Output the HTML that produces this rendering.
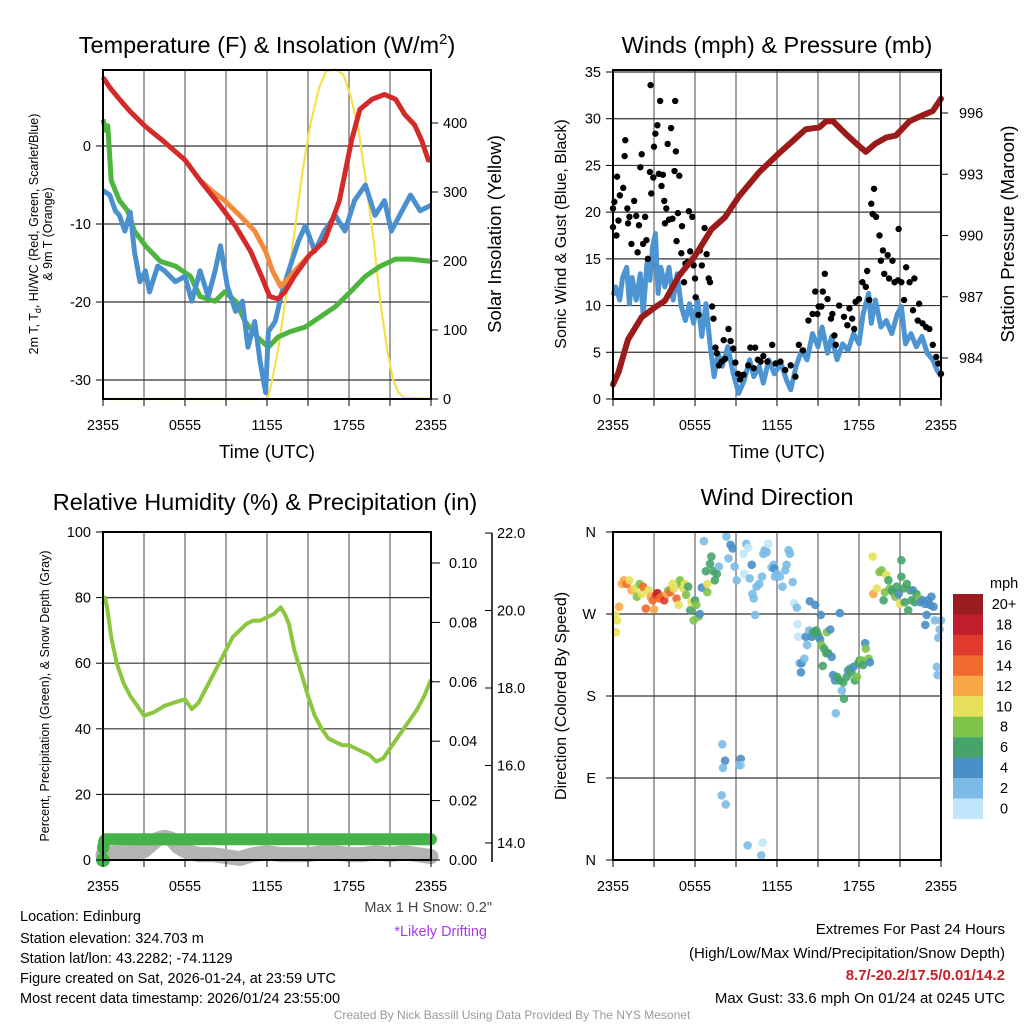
<!DOCTYPE html>
<html><head><meta charset="utf-8"><style>
body{margin:0;background:#fff;}
svg{display:block;font-family:"Liberation Sans",Arial,sans-serif;}
</style></head><body>
<svg id="fig" width="1024" height="1024" viewBox="0 0 1024 1024" xmlns="http://www.w3.org/2000/svg">
<rect width="1024" height="1024" fill="#fff"/>
<g id="g1"></g>
<g id="g2"></g>
<g id="g3"></g>
<g id="g4"></g>
<g font-size="14.5" fill="#000">
<text x="20" y="921">Location: Edinburg</text>
<text x="20" y="943">Station elevation: 324.703 m</text>
<text x="20" y="963">Station lat/lon: 43.2282; -74.1129</text>
<text x="20" y="983">Figure created on Sat, 2026-01-24, at 23:59 UTC</text>
<text x="20" y="1003">Most recent data timestamp: 2026/01/24 23:55:00</text>
</g>
<text x="492" y="912" font-size="14.5" fill="#444" text-anchor="end">Max 1 H Snow: 0.2"</text>
<text x="487" y="936" font-size="14.5" fill="#a63ce6" text-anchor="end">*Likely Drifting</text>
<g font-size="15" text-anchor="end">
<text x="1005" y="934">Extremes For Past 24 Hours</text>
<text x="1005" y="958">(High/Low/Max Wind/Precipitation/Snow Depth)</text>
<text x="1005" y="980" fill="#c8202a" font-weight="bold">8.7/-20.2/17.5/0.01/14.2</text>
<text x="1005" y="1003">Max Gust: 33.6 mph On 01/24 at 0245 UTC</text>
</g>
<text x="512" y="1019" font-size="12" fill="#999" text-anchor="middle">Created By Nick Bassill Using Data Provided By The NYS Mesonet</text>
</svg>
<script>
// ---------- DATA ----------
const xTickLabels=["2355","0555","1155","1755","2355"];
// Temperature panel
const tRedH=[0,0.5,1.2,2,3.1,4.5,6,7.1,8.6,9.7,10.8,11.6,12.2,12.8,13.3,14,15.1,16.2,17.3,18.2,18.8,19.7,20.6,21.4,22.1,22.8,23.3,23.8,24];
const tRedV=[8.8,7.5,6.0,4.4,2.5,0.5,-1.8,-4.4,-7.7,-10.3,-13.5,-16.7,-19.3,-19.6,-18.7,-16.7,-14,-12.2,-7,0.8,4.7,6.0,6.6,6.0,4.0,2.7,0.8,-1.8,-1.8];
const tOrgH=[7.1,8.0,8.9,10,11.1,11.9,12.4,13,13.7,14.3,15.1];
const tOrgV=[-4.4,-5.8,-7,-8.9,-10.9,-13.5,-16,-18,-16.7,-15.5,-14];
const tGrnH=[0,0.2,0.35,0.6,1.2,1.8,2.3,3.1,4.2,5.3,6.4,7.1,8.2,8.9,9.7,10.4,11.3,12.1,12.8,13.7,14.8,15.9,17,18.1,19.2,20.3,21.4,22.5,24];
const tGrnV=[3.4,2,2.6,-4.4,-7,-8.3,-10.9,-12.8,-14.8,-15.4,-16.7,-19.3,-19.9,-18.7,-19.9,-22.5,-24.5,-25.8,-24.5,-23.8,-23.2,-21.9,-20.6,-18.7,-16.7,-15.4,-14.5,-14.5,-14.8];
const tBluH=[0,0.5,0.9,1.2,1.6,2,2.3,2.7,3.1,3.4,4,4.5,5.3,6,6.5,7.1,7.7,8.2,8.6,9.1,9.7,10.2,10.6,11.1,11.5,11.9,12.1,12.6,13.1,13.7,14.3,14.8,15.5,16.2,17,17.7,18.4,19.2,19.9,20.6,21.1,21.7,22.5,23.2,24];
const tBluV=[-5.7,-6.3,-8.3,-8.9,-10.9,-8.5,-13.5,-17.4,-16,-18.7,-15.4,-16,-17.4,-16.7,-19.9,-16,-19.3,-16,-12.8,-18,-21.2,-19.9,-25.8,-22.5,-27.7,-31.6,-23.8,-22.5,-18.7,-15.4,-12.2,-10.2,-13.5,-10.9,-8.9,-10.9,-7,-5,-8.9,-7,-10.9,-8.9,-6.3,-8.3,-7.6];
const solH=[0,12,12.3,12.8,13.4,14,14.6,15.2,15.8,16.3,17,17.6,18.1,18.7,19.2,19.8,20.3,20.8,21.2,21.6,22,24];
const solV=[0,0,20,70,150,240,330,400,450,475,478,470,440,390,320,230,140,70,30,10,2,0];
const tTicks=[-30,-20,-10,0];
const solTicks=[0,100,200,300,400];
// Winds panel
const sonH=[0,0.2,0.5,0.7,1,1.2,1.4,1.7,2,2.2,2.5,2.7,2.9,3.1,3.3,3.5,3.8,4.1,4.4,4.7,5,5.3,5.6,5.9,6.2,6.5,6.8,7.1,7.4,7.7,8,8.4,8.8,9.2,9.6,10,10.3,10.7,11,11.4,11.8,12.3,12.7,13,13.4,13.8,14.2,14.6,15,15.3,15.7,16,16.4,16.8,17.2,17.6,18,18.3,18.7,18.9,19.2,19.6,20,20.4,20.8,21.1,21.4,21.8,22.2,22.6,23,23.4,23.7,24];
const sonV=[11.1,12,10.6,13,14.1,10.2,13,10.6,13.4,9.1,14.8,12.7,16.3,17.7,11.3,14.1,12,14.1,10.6,13.4,9.9,8.4,10.2,8.1,10.6,6.7,10.2,5.9,2.4,4.9,3.5,5.6,2.7,0.6,2.0,4.2,2.4,3.5,1.7,4.2,2.7,3.8,2.0,1.0,3.5,5.2,4.2,7.0,5.6,7.7,4.9,6.7,4.2,5.9,5.2,7.0,5.9,9.1,11.3,8.1,10.6,7.7,8.4,7.0,9.1,9.9,5.9,7.0,5.6,6.7,4.9,4.2,3.1,2.4];
const gustH=[0,0,0.1,0.25,0.3,0.4,0.5,0.75,0.9,0.85,1.05,1.1,1.2,1.35,1.55,1.7,1.8,1.9,2,2.1,2.2,2.35,2.45,2.55,2.7,2.75,2.8,2.95,3,3.1,3.25,3.35,3.45,3.55,3.65,3.75,3.8,3.9,4,4.1,4.25,4.35,4.5,4.55,4.6,4.65,4.75,4.85,5,5.05,5.2,5.3,5.5,5.55,5.65,5.8,5.9,6,6.05,6.25,6.35,6.5,6.7,6.85,7,7.1,7.25,7.35,7.5,7.6,7.75,7.95,8.1,8.2,8.45,8.6,8.8,8.95,9.15,9.3,9.55,9.9,10.05,10.3,10.4,10.6,10.8,11,11.3,11.65,11.9,12.25,12.6,13,13.35,13.6,13.9,14.3,14.6,14.8,14.95,15.05,15.25,15.35,15.5,15.7,15.95,16.05,16.2,16.3,16.55,16.9,17.15,17.3,17.5,17.65,17.75,18,18.25,18.5,18.6,18.75,18.9,19,19.1,19.25,19.5,19.6,19.75,19.85,20.1,20.2,20.45,20.6,20.85,20.9,21.1,21.3,21.45,21.7,21.95,22.05,22.3,22.4,22.65,22.9,23.15,23.4,23.65,23.8,24];
const gustV=[18.4,20.4,21.1,17.5,23.8,19.1,21.8,22.6,27.7,26,20.4,18.8,19.5,16.6,21.2,19.6,15.7,18.6,24.8,26.2,16.6,19.5,17,15,24.3,33.6,22,23.7,27,28.4,29.3,24.1,31.9,22.8,24,21.2,18.8,20.4,27.3,19.2,29,19.3,24.4,31.9,26.5,16.9,19.9,23.9,15.6,18.5,12.5,14.5,14.7,20.1,15.8,19.5,14.3,12.9,10.9,9,15.9,14.3,18.3,15.5,12.9,12.5,9.9,8.6,5.5,4.9,3.6,4,6.3,4.3,7.5,6.2,5.4,3.9,2.7,2.1,2.6,3.6,5.5,3.3,5.5,4.2,4,4.6,4,5.8,3.8,4,3.1,3.6,2.4,5.8,5.2,8.4,9.1,11.5,9.1,9.9,9.9,11.5,13.4,10.7,8.6,9.1,6.8,5.8,10,8.8,7.9,9.7,8.6,7.5,10.4,10.7,12.5,12,13.7,10.6,20.9,19.8,22.5,19.5,17.5,14.8,15.9,13.4,15.4,12.9,14.8,12.5,12.7,18.2,12.5,10.6,14.1,12.5,9.5,12.9,8.4,10.2,8.1,7.7,7.5,5.8,4.5,3.8,2.7];
const presH=[0,0.4,1.1,2.1,3.1,3.8,4.8,6,7.2,8.2,9.2,10.7,12.1,13.1,14.1,15.1,15.6,16.1,17,17.8,18.5,19.2,20,20.7,21.7,22.7,23.4,24];
const presV=[982.7,983.3,984.9,986,986.5,986.8,988,989,990.3,990.9,991.9,993.1,994,994.6,995.2,995.3,995.6,995.6,995,994.5,994.1,994.5,994.8,994.9,995.6,995.9,996.1,996.7];
const windTicks=[0,5,10,15,20,25,30,35];
const presTicks=[984,987,990,993,996];
// Humidity panel
const rhH=[0,0.15,0.3,0.6,1,1.5,2,2.5,3,3.7,4.5,5.2,6,6.5,7,7.5,8,8.5,9,9.5,10,10.5,11,11.5,12,12.5,13,13.3,13.6,14,14.5,15,15.5,16,16.5,17,17.5,18,18.5,19,19.5,20,20.5,21,21.5,22,22.5,23,23.5,24];
const rhV=[78,80,77,68,60,54,50,47,44,45,47,48,49,46,48,52,56,60,64,68,70,72,73,73,74,75,77,75,72,64,57,50,44,40,37,36,35,35,34,33,32,30,31,34,37,40,43,46,50,55];
const precipH=[0,0.1,0.2,24];
const precipV=[0.004,0.0065,0.007,0.007];
const snowH=[0,1,2,3,4,4.5,5,5.5,6,7,8,9,10,11,12,13,14,15,16,17,18,19,20,21,22,23,24];
const snowV=[13.7,13.75,13.75,13.8,14.1,14.15,14.1,13.9,13.8,13.7,13.7,13.65,13.6,13.7,13.75,13.7,13.7,13.7,13.75,13.75,13.7,13.7,13.75,13.7,13.75,13.7,13.65];
const rhTicks=[0,20,40,60,80,100];
const precipTicks=["0.00","0.02","0.04","0.06","0.08","0.10"];
const snowTicks=["14.0","16.0","18.0","20.0","22.0"];
// Wind direction panel
const dirH=[0.15,0.2,0.3,0.45,0.65,0.8,1,1.2,1.35,1.6,1.75,1.95,2.1,2.2,2.4,2.6,2.75,2.9,3,3.15,3.25,3.4,3.55,3.75,3.95,4.05,4.2,4.35,4.45,4.65,4.8,4.9,5,5.15,5.25,5.35,5.5,5.65,5.75,5.9,6,6.1,6.25,6.35,6.5,6.8,6.9,6.9,7.1,7.2,7.35,7.45,7.6,7.75,6.65,
8.3,8.45,8.6,8.75,8.9,9.05,9.55,9.6,9.75,9.9,10,10.15,10.2,10.3,10.4,10.5,10.7,10.9,11,11.1,11.25,11.35,11.6,11.75,11.8,11.85,12,12.2,12.4,12.6,12.7,12.85,12.95,13.15,13.25,13.45,
13.5,13.55,13.65,13.75,13.8,14,14.1,14.2,14.35,14.4,14.55,14.65,14.8,14.85,14.95,15.05,15.15,15.2,15.25,15.35,15.45,15.6,15.65,15.75,15.9,16,16.1,16.25,16.3,16.4,16.55,16.6,16.75,16.85,16.9,17.1,17.2,17.35,17.45,17.6,17.7,17.85,17.95,18.05,18.2,18.3,18.45,18.5,18.7,18.8,
19,19.05,19.3,19.5,19.65,19.8,19.9,20,20.15,20.25,20.4,20.5,20.65,20.75,20.9,21,21.1,21.1,21.25,21.35,21.5,21.6,21.75,21.85,21.95,22.1,22.2,22.4,22.5,22.65,22.85,22.95,23.05,23.2,23.3,23.45,23.55,23.7,23.75,23.8,23.9,24,22.85,
8,8.2,8.05,9.35,9.4,9.25,7.95,8.25,9.85,10.95,10.85];
const dirV=[269,250,263,278,303,307,303,307,296,298,289,303,292,300,276,296,289,285,275,291,293,287,289,285,292,296,294,303,298,287,280,307,302,298,303,291,300,274,283,263,285,280,267,270,299,317,294,303,325,333,317,307,314,322,350,
355,331,346,342,322,307,336,314,347,343,309,324,292,287,269,300,303,311,336,340,338,347,321,324,320,311,314,311,300,318,324,340,336,305,282,277,
259,245,216,206,216,221,245,236,252,284,245,250,280,252,249,245,242,269,236,213,232,227,250,227,253,223,203,197,161,201,197,271,186,195,177,201,208,210,206,212,197,201,216,219,219,214,238,232,221,217,
333,292,298,316,318,285,294,313,307,298,296,294,289,300,292,281,329,311,298,283,303,274,296,285,296,283,292,287,283,285,281,269,285,280,289,278,263,212,203,244,253,263,258,
127,109,101,111,104,104,71,61,16,19,5];
const dirS=[10,10,10,12,12,12,14,10,12,10,8,8,10,14,14,10,12,14,12,16,18,14,14,16,12,8,14,10,10,14,10,8,8,10,10,8,6,6,10,8,6,8,8,4,4,6,8,10,6,6,6,6,6,2,2,
2,2,4,4,2,2,0,0,2,0,2,4,2,2,2,2,2,2,2,2,2,0,2,2,4,2,2,2,2,2,2,2,2,2,0,2,
0,0,2,4,4,2,4,2,2,4,4,6,4,6,6,6,4,4,8,6,6,6,8,6,4,4,4,4,2,6,6,4,2,6,6,6,4,6,6,4,6,8,6,6,8,6,4,8,8,4,
10,12,10,8,8,6,8,10,6,8,6,6,8,6,4,10,6,6,6,6,6,6,6,6,4,6,6,8,4,4,4,4,4,4,4,4,2,2,2,2,2,2,4,
2,4,2,4,0,2,2,2,2,0,2];
const cbLabels=["20+","18","16","14","12","10","8","6","4","2","0"];
const cbColors=["#9b1c20","#c0202b","#df3a2d","#ef6a2c","#f8a847","#e7e05a","#7ec34a","#46a46a","#4a8fc6","#7bbbe5","#bfe6fa"];

// ---------- HELPERS ----------
const NS="http://www.w3.org/2000/svg";
function mk(parent,tag,attrs,text){const e=document.createElementNS(NS,tag);for(const k in attrs)e.setAttribute(k,attrs[k]);if(text!==undefined)e.textContent=text;parent.appendChild(e);return e;}
function linScale(d0,d1,r0,r1){return v=>r0+(v-d0)*(r1-r0)/(d1-d0);}
const L=103,R=431,WL=613,WR=941;
function pathD(xs,ys,sx,sy){return xs.map((h,i)=>(i?"L":"M")+sx(h).toFixed(1)+","+sy(ys[i]).toFixed(1)).join("");}
function frame(g,x0,x1,y0,y1,hGrid){
  for(let k=1;k<8;k++){const x=x0+(x1-x0)*k/8;const ln=mk(g,"line",{x1:x,x2:x,y1:y0,y2:y1,stroke:"#666","stroke-width":1.2});
  }
  hGrid.forEach(y=>{const ln=mk(g,"line",{x1:x0,x2:x1,y1:y,y2:y,stroke:"#333","stroke-width":1.2});
  });
}
function box(g,x0,x1,y0,y1){const r=mk(g,"rect",{x:x0,y:y0,width:x1-x0,height:y1-y0,fill:"none",stroke:"#000","stroke-width":2});
}
function xAxis(g,x0,x1,y1){
  for(let k=0;k<=8;k++){const x=x0+(x1-x0)*k/8;mk(g,"line",{x1:x,x2:x,y1:y1,y2:y1+7,stroke:"#000","stroke-width":1});}
  xTickLabels.forEach((t,i)=>{const tx=mk(g,"text",{x:x0+(x1-x0)*i/4,y:y1+31,"font-size":14.5,"text-anchor":"middle"},t);
  });
}
function title(g,x,y,txt){const t=mk(g,"text",{x:x,y:y,"font-size":23.5,"text-anchor":"middle"},txt);
return t;}

// ---------- PANEL 1 ----------
(function(){
const g=document.getElementById("g1");
const sx=linScale(0,24,L,R), sy=linScale(0,-10,146,224), ss=linScale(0,400,399,123);
frame(g,L,R,70,399,tTicks.map(sy));
const sol=mk(g,"path",{d:pathD(solH,solV,sx,ss),fill:"none",stroke:"#f7e04b","stroke-width":2.2});

const gr=mk(g,"path",{d:pathD(tGrnH,tGrnV,sx,sy),fill:"none",stroke:"#4db43e","stroke-width":5,"stroke-linejoin":"round"});

const bl=mk(g,"path",{d:pathD(tBluH,tBluV,sx,sy),fill:"none",stroke:"#4a90cf","stroke-width":5,"stroke-linejoin":"round"});

const og=mk(g,"path",{d:pathD(tOrgH,tOrgV,sx,sy),fill:"none",stroke:"#f58a3a","stroke-width":5,"stroke-linejoin":"round"});

const rd=mk(g,"path",{d:pathD(tRedH,tRedV,sx,sy),fill:"none",stroke:"#d42a2a","stroke-width":5,"stroke-linejoin":"round"});

box(g,L,R,70,399);xAxis(g,L,R,399);
tTicks.forEach(v=>{mk(g,"line",{x1:L-7,x2:L,y1:sy(v),y2:sy(v),stroke:"#000"});
const t=mk(g,"text",{x:L-12,y:sy(v)+5,"font-size":14.5,"text-anchor":"end"},String(v));
});
solTicks.forEach(v=>{mk(g,"line",{x1:R,x2:R+7,y1:ss(v),y2:ss(v),stroke:"#000"});
const t=mk(g,"text",{x:R+12,y:ss(v)+5,"font-size":14.5},String(v));
});
const t1=title(g,267,53,"");t1.innerHTML='Temperature (F) &amp; Insolation (W/m<tspan dy="-9" font-size="15">2</tspan><tspan dy="9">)</tspan>';
const xt=mk(g,"text",{x:267,y:458,"font-size":18.5,"text-anchor":"middle"},"Time (UTC)");

const yt=mk(g,"text",{transform:"translate(38,234) rotate(-90)","font-size":12.5,"text-anchor":"middle"});
yt.innerHTML='2m T, T<tspan dy="3" font-size="9">d</tspan><tspan dy="-3">, HI/WC (Red, Green, Scarlet/Blue)</tspan>';

const yt2=mk(g,"text",{transform:"translate(52,234) rotate(-90)","font-size":12.5,"text-anchor":"middle"},"& 9m T (Orange)");

const rt=mk(g,"text",{transform:"translate(501,234) rotate(-90)","font-size":18.5,"text-anchor":"middle"},"Solar Insolation (Yellow)");

})();

// ---------- PANEL 2 ----------
(function(){
const g=document.getElementById("g2");
const sx=linScale(0,24,WL,WR), sy=linScale(0,35,399,72), sp=linScale(984,996,358,113);
frame(g,WL,WR,70,399,windTicks.map(sy));
const sn=mk(g,"path",{d:pathD(sonH,sonV,sx,sy),fill:"none",stroke:"#4d95d2","stroke-width":5,"stroke-linejoin":"round"});

gustH.forEach((h,i)=>{const c=mk(g,"circle",{cx:sx(h),cy:sy(gustV[i]),r:3.2,fill:"#000"});
});
const pr=mk(g,"path",{d:pathD(presH,presV,sx,sp),fill:"none",stroke:"#9b1b1b","stroke-width":6,"stroke-linejoin":"round","stroke-linecap":"round"});

box(g,WL,WR,70,399);xAxis(g,WL,WR,399);
windTicks.forEach(v=>{mk(g,"line",{x1:WL-7,x2:WL,y1:sy(v),y2:sy(v),stroke:"#000"});
const t=mk(g,"text",{x:WL-12,y:sy(v)+5,"font-size":14.5,"text-anchor":"end"},String(v));
});
presTicks.forEach(v=>{mk(g,"line",{x1:WR,x2:WR+7,y1:sp(v),y2:sp(v),stroke:"#000"});
const t=mk(g,"text",{x:WR+18,y:sp(v)+5,"font-size":14.5},String(v));
});
title(g,777,53,"Winds (mph) & Pressure (mb)");
const xt=mk(g,"text",{x:777,y:458,"font-size":18.5,"text-anchor":"middle"},"Time (UTC)");

const yt=mk(g,"text",{transform:"translate(566,234) rotate(-90)","font-size":16,"text-anchor":"middle"},"Sonic Wind & Gust (Blue, Black)");

const rt=mk(g,"text",{transform:"translate(1014,234) rotate(-90)","font-size":18.5,"text-anchor":"middle"},"Station Pressure (Maroon)");

})();

// ---------- PANEL 3 ----------
(function(){
const g=document.getElementById("g3");
const sx=linScale(0,24,L,R), sy=linScale(0,100,860,532), sp=linScale(0,0.1,860,563), sn=linScale(14,22,843,533);
frame(g,L,R,532,860,rhTicks.map(sy));
const snw=mk(g,"path",{d:pathD(snowH,snowV,sx,sn),fill:"none",stroke:"#b3b3b3","stroke-width":15,"stroke-linejoin":"round","stroke-linecap":"round"});

const pc=mk(g,"path",{d:pathD(precipH,precipV,sx,sp),fill:"none",stroke:"#45b349","stroke-width":12,"stroke-linejoin":"round","stroke-linecap":"round"});

const dot=mk(g,"circle",{cx:sx(0),cy:860,r:7,fill:"#45b349"});

const rh=mk(g,"path",{d:pathD(rhH,rhV,sx,sy),fill:"none",stroke:"#8cc63f","stroke-width":4,"stroke-linejoin":"round"});

box(g,L,R,532,860);xAxis(g,L,R,860);
rhTicks.forEach(v=>{mk(g,"line",{x1:L-7,x2:L,y1:sy(v),y2:sy(v),stroke:"#000"});
const t=mk(g,"text",{x:L-12,y:sy(v)+5,"font-size":14.5,"text-anchor":"end"},String(v));
});
precipTicks.forEach(s=>{const v=parseFloat(s);mk(g,"line",{x1:R,x2:R+9,y1:sp(v),y2:sp(v),stroke:"#000"});
const t=mk(g,"text",{x:R+18,y:sp(v)+5,"font-size":14.5},s);
});
mk(g,"line",{x1:492,x2:492,y1:533,y2:862,stroke:"#000","stroke-width":1.5});
snowTicks.forEach(s=>{const v=parseFloat(s);mk(g,"line",{x1:485,x2:492,y1:sn(v),y2:sn(v),stroke:"#000"});
const t=mk(g,"text",{x:497,y:sn(v)+5,"font-size":14.5},s);
});
title(g,265,510,"Relative Humidity (%) & Precipitation (in)");
const yt=mk(g,"text",{transform:"translate(49,696) rotate(-90)","font-size":12.5,"text-anchor":"middle"},"Percent, Precipitation (Green), & Snow Depth (Gray)");

})();

// ---------- PANEL 4 ----------
(function(){
const g=document.getElementById("g4");
const sx=linScale(0,24,WL,WR), sy=linScale(0,360,860,532);
const dirLabels=["N","E","S","W","N"];
frame(g,WL,WR,532,860,[0,90,180,270,360].map(sy));
dirH.forEach((h,i)=>{const bin=Math.min(10,Math.floor(dirS[i]/2));
const c=mk(g,"circle",{cx:sx(h),cy:sy(dirV[i]),r:4.3,fill:cbColors[10-bin],"fill-opacity":0.9});
});
box(g,WL,WR,532,860);xAxis(g,WL,WR,860);
dirLabels.forEach((s,i)=>{const y=sy(i*90);mk(g,"line",{x1:WL-7,x2:WL,y1:y,y2:y,stroke:"#000"});
const t=mk(g,"text",{x:WL-17,y:y+5,"font-size":14.5,"text-anchor":"end"},s);
});
title(g,777,505,"Wind Direction");
const yt=mk(g,"text",{transform:"translate(566,696) rotate(-90)","font-size":16,"text-anchor":"middle"},"Direction (Colored By Speed)");

const cb=mk(g,"g",{});
const ml=mk(cb,"text",{x:990,y:588,"font-size":14.5},"mph");

cbColors.forEach((c,i)=>{const r=mk(cb,"rect",{x:953,y:594+i*20.45,width:30,height:20.6,fill:c});

const t=mk(cb,"text",{x:1004,y:594+i*20.45+15,"font-size":14.5,"text-anchor":"middle"},cbLabels[i]);
});
})();
</script>
</body></html>
